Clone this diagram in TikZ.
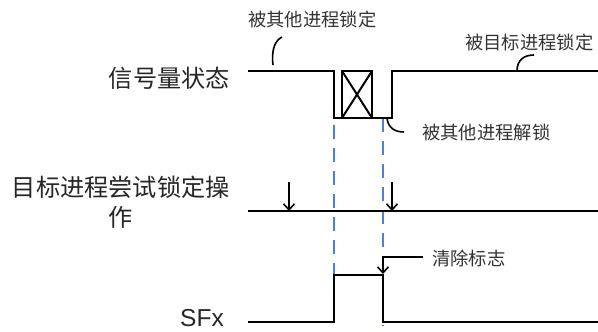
\documentclass[tikz,border=0pt]{standalone}
\usepackage{fontspec}
\setmainfont{Liberation Sans}
\newfontfamily\cjk{Noto Sans CJK SC}
\usetikzlibrary{arrows.meta}
\definecolor{guideblue}{RGB}{70,132,216}
\tikzset{
  sig/.style={line width=2pt, black, line join=miter},
  guide/.style={line width=2pt, guideblue, dash pattern=on 14pt off 9pt},
  callout/.style={line width=1.6pt, black},
  bigtxt/.style={font=\cjk\fontsize{24.2}{30}\selectfont, inner sep=0pt, text=black!85},
  smalltxt/.style={font=\cjk\fontsize{18.3}{22}\selectfont, inner sep=0pt, text=black!80},
  probe/.style={line width=1.6pt, -{Straight Barb[length=6pt,width=11pt,line width=1.6pt]}},
}
\begin{document}
\begin{tikzpicture}[x=1pt,y=-1pt]
\useasboundingbox (0,0) rectangle (598,332);
% labels
\node[bigtxt, anchor=east] (lsem) at (230,78) {信号量状态};
\node[bigtxt, anchor=east, align=center] (lop) at (230,202) {目标进程尝试锁定操\\作};
\node[anchor=east, inner sep=0pt, font=\fontsize{24.5}{28}\selectfont, text=black!85] (lsf) at (224,318) {SFx};
\node[smalltxt, anchor=west] (t1) at (248,20) {被其他进程锁定};
\node[smalltxt, anchor=west] (t2) at (465,43) {被目标进程锁定};
\node[smalltxt, anchor=west] (t3) at (422,133) {被其他进程解锁};
\node[smalltxt, anchor=west] (t4) at (432,258) {清除标志};
% guides
\draw[guide] (334,125) -- (334,326);
\draw[guide] (383,118) -- (383,326);
% semaphore signal
\draw[sig] (248,71) -- (334,71) -- (334,118) -- (392,118) -- (392,71) -- (598,71);
\draw[sig] (342,71) rectangle (372,118);
\draw[sig] (342,71) -- (372,118);
\draw[sig] (372,71) -- (342,118);
% callouts
\draw[callout] (273,65) .. controls (271,48) and (276,40) .. (282,37);
\draw[callout] (517,71) .. controls (517,60) and (524,55) .. (534,55);
\draw[callout] (387,118) .. controls (388,128) and (395,132) .. (404,132);
% operation line
\draw[sig] (248,211) -- (598,211);
\coordinate (a1) at (289,182);
\coordinate (a2) at (392,182);
\draw[probe] (a1) -- (289,211);
\draw[probe] (a2) -- (392,211);
% SFx signal
\draw[sig] (248,322) -- (334,322) -- (334,275) -- (383,275) -- (383,322) -- (598,322);
\coordinate (c0) at (423,257);
\draw[probe] (c0) -- (383,257) -- (383,274);
\end{tikzpicture}
\end{document}
